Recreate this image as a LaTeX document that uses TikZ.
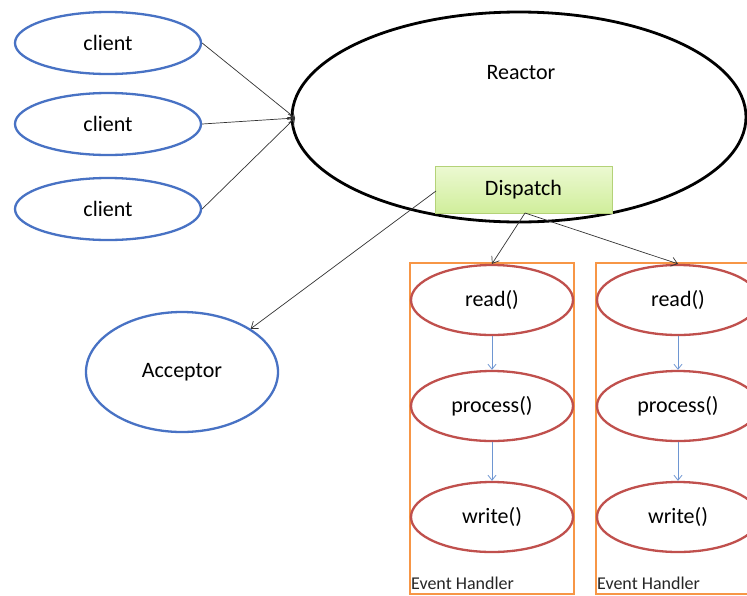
\documentclass[tikz,border=0pt]{standalone}
\usepackage{fontspec}
\setmainfont{Carlito}
\usetikzlibrary{shapes.geometric,arrows.meta}
\definecolor{cblue}{RGB}{72,114,196}
\definecolor{cred}{RGB}{192,80,77}
\definecolor{corange}{RGB}{247,150,70}
\definecolor{cgreenA}{RGB}{236,249,210}
\definecolor{cgreenB}{RGB}{208,238,155}
\definecolor{cgreenE}{RGB}{180,210,120}
\definecolor{cblueline}{RGB}{110,150,210}
\tikzset{
  client/.style={ellipse, draw=cblue, line width=2.3pt, minimum width=186pt, minimum height=62pt, inner sep=0pt, font=\fontsize{22}{25}\selectfont},
  reactor/.style={ellipse, draw=black, line width=2.8pt, minimum width=454pt, minimum height=210pt, inner sep=0pt},
  dispatchbox/.style={rectangle, draw=cgreenE, line width=0.6pt, top color=cgreenA, bottom color=cgreenB, minimum width=177pt, minimum height=47pt, inner sep=0pt, font=\fontsize{22}{25}\selectfont},
  handler/.style={rectangle, draw=corange, line width=2.2pt, minimum width=164pt, minimum height=331pt, inner sep=0pt},
  stage/.style={ellipse, draw=cred, line width=2.3pt, minimum width=162pt, minimum height=70pt, inner sep=0pt, font=\fontsize{22}{25}\selectfont},
  link/.style={draw=black!80, line width=0.7pt, -{Straight Barb[length=6pt,width=9pt]}},
  flow/.style={draw=cblueline, line width=0.8pt, -{Straight Barb[length=5pt,width=8pt]}},
  hlabel/.style={anchor=south west, inner sep=0pt, font=\fontsize{18}{20}\selectfont, text=black!85}
}
\begin{document}
\begin{tikzpicture}[x=1pt,y=-1pt]
\useasboundingbox (0,0) rectangle (747,595);
\clip (0,0) rectangle (747,595);
\fill[white] (0,0) rectangle (747,595);

% clients and the reactor
\node[client] (c1) at (108,43) {client};
\node[client] (c2) at (108,124) {client};
\node[client] (c3) at (108,209) {client};
\node[reactor] (reactor) at (519,117) {};
\node[font=\fontsize{22}{25}\selectfont] (rlabel) at (521,73) {Reactor};
\node[dispatchbox] (dispatch) at (523.5,189.5) {Dispatch};
\coordinate (rin) at (295,118);
\coordinate (dleft) at (436,191);
\coordinate (dout) at (525,213);

% acceptor
\node[client, minimum width=192pt, minimum height=120pt] (acceptor) at (182,372) {Acceptor};

% event handlers
\node[handler] (h1) at (492,428.5) {};
\node[handler] (h2) at (678,428.5) {};
\node[hlabel] (h1l) at (411,590) {Event Handler};
\node[hlabel] (h2l) at (597,590) {Event Handler};

\node[stage] (r1) at (492,300) {read()};
\node[stage] (p1) at (492,406) {process()};
\node[stage] (w1) at (492,517) {write()};
\node[stage] (r2) at (678,300) {read()};
\node[stage] (p2) at (678,406) {process()};
\node[stage] (w2) at (678,517) {write()};

% connectors
\draw[link] (c1.east) -- (rin);
\draw[link] (c2.east) -- (rin);
\draw[link] (c3.east) -- (rin);
\draw[link] (dleft) -- (acceptor.north east);
\draw[link] (dout) -- (r1.north);
\draw[link] (dout) -- (r2.north);

\draw[flow] (r1.south) -- (p1.north);
\draw[flow] (p1.south) -- (w1.north);
\draw[flow] (r2.south) -- (p2.north);
\draw[flow] (p2.south) -- (w2.north);
\end{tikzpicture}
\end{document}
